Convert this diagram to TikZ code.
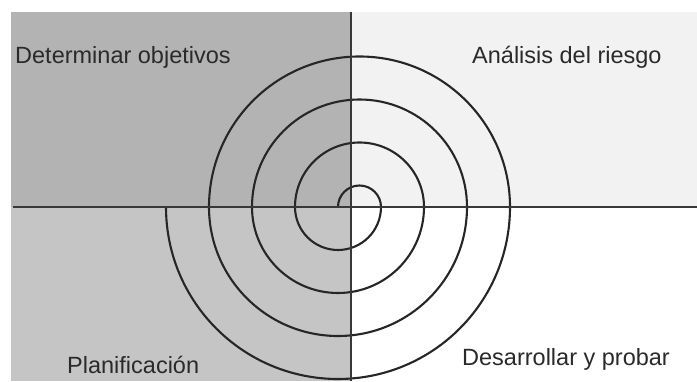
\documentclass[tikz,border=0pt]{standalone}
\usepackage{fontspec}
\setmainfont{Liberation Sans}
\definecolor{qtl}{HTML}{B3B3B3}
\definecolor{qtr}{HTML}{F2F2F2}
\definecolor{qbl}{HTML}{C5C5C5}
\definecolor{axiscol}{HTML}{383838}
\definecolor{spiralcol}{HTML}{262626}
\definecolor{labelcol}{HTML}{2A2A2A}
\tikzset{
  quadlabel/.style={anchor=base west, inner sep=0pt, text=labelcol, font=\fontsize{23.5}{28}\selectfont},
  axisline/.style={draw=axiscol, line width=2.8pt},
  spiralline/.style={draw=spiralcol, line width=2.1pt}
}
\begin{document}
\begin{tikzpicture}[x=1pt,y=1pt]
\useasboundingbox (0,0) rectangle (697,381);
\fill[white] (0,0) rectangle (697,381);
% quadrants
\fill[qtl] (11,174) rectangle (351,369);
\fill[qtr] (351,174) rectangle (697,369);
\fill[qbl] (11,0) rectangle (351,174);
% spiral
\coordinate (s0) at (338,174);
\draw[spiralline] (s0)
  arc[start angle=180, end angle=0, radius=21.5]
  arc[start angle=0, end angle=-180, radius=43]
  arc[start angle=180, end angle=0, radius=64.5]
  arc[start angle=0, end angle=-180, radius=86]
  arc[start angle=180, end angle=0, radius=107.5]
  arc[start angle=0, end angle=-180, radius=129]
  arc[start angle=180, end angle=0, radius=150.5]
  arc[start angle=0, end angle=-180, radius=172];
% axes
\coordinate (vtop) at (351,369);
\coordinate (vbot) at (351,0);
\coordinate (hl) at (13,174);
\coordinate (hr) at (697,174);
\draw[axisline] (vtop) -- (vbot);
\draw[axisline] (hl) -- (hr);
% labels
\node[quadlabel] (obj) at (15,317) {Determinar objetivos};
\node[quadlabel] (ries) at (472,317) {Análisis del riesgo};
\node[quadlabel] (plan) at (67,8) {Planificación};
\node[quadlabel] (des) at (462,16) {Desarrollar y probar};
\end{tikzpicture}
\end{document}
